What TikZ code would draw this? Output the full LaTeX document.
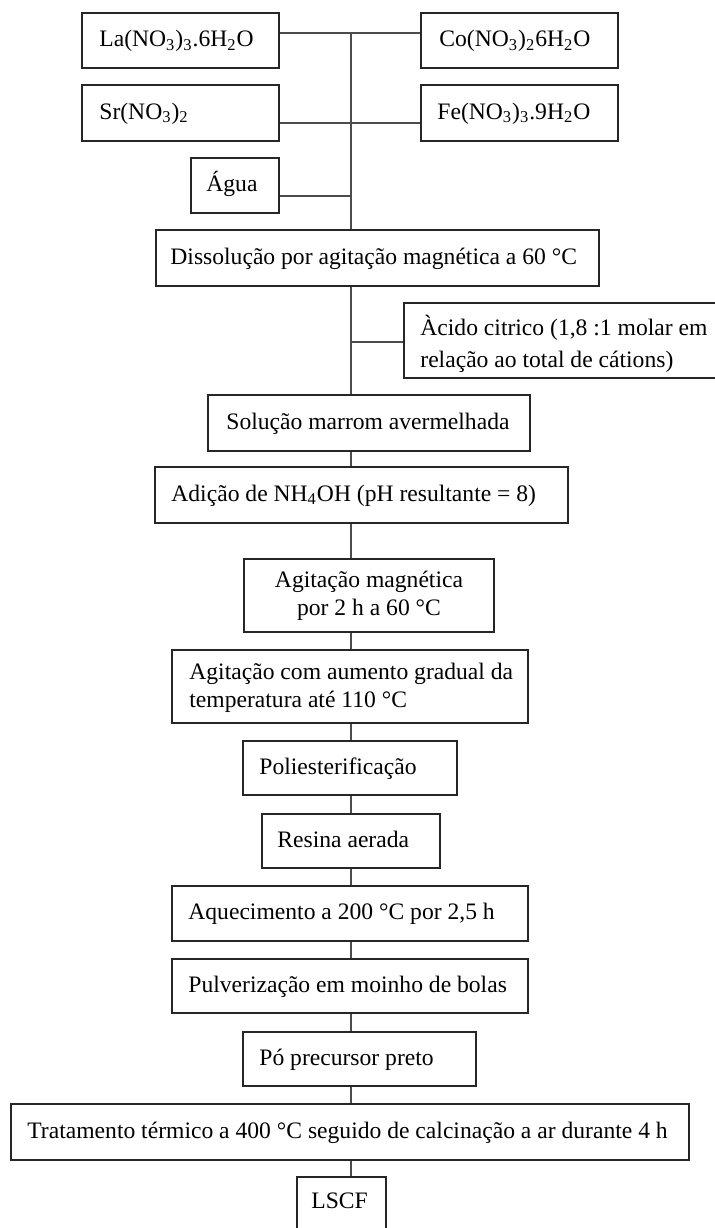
\documentclass[tikz,border=0pt]{standalone}
\usepackage{fontspec}
\setmainfont{Liberation Serif}
\usetikzlibrary{fit}
\begin{document}
\begin{tikzpicture}[x=0.5pt,y=-0.5pt,
  bx/.style={draw=black!85, line width=0.7pt, inner sep=0pt},
  tx/.style={inner sep=0pt, font=\fontsize{11.8}{14}\selectfont, text height=8.4pt, text depth=2.4pt, anchor=west},
  mtx/.style={inner sep=0pt, font=\fontsize{11.8}{14}\selectfont},
  conn/.style={draw=black!70, line width=0.9pt}]
\useasboundingbox (0,0) rectangle (715,1228);
\clip (0,0) rectangle (715,1228);
% boxes
\node[bx, fit={(82,13) (279,68)}] (La) {};
\node[bx, fit={(421,13) (618,68)}] (Co) {};
\node[bx, fit={(82,85) (279,141)}] (Sr) {};
\node[bx, fit={(421,85) (618,141)}] (Fe) {};
\node[bx, fit={(191,158) (279,213)}] (Ag) {};
\node[bx, fit={(156,230) (599,286)}] (Dis) {};
\node[bx, fit={(404,303) (730,378)}] (Aci) {};
\node[bx, fit={(208,395) (530,451)}] (Sol) {};
\node[bx, fit={(155,467) (568,523)}] (Adi) {};
\node[bx, fit={(244,559) (494,632)}] (Agm) {};
\node[bx, fit={(172,650) (528,723)}] (Aum) {};
\node[bx, fit={(243,741) (457,795)}] (Pol) {};
\node[bx, fit={(262,814) (440,868)}] (Res) {};
\node[bx, fit={(172,886) (528,941)}] (Aqu) {};
\node[bx, fit={(172,959) (528,1013)}] (Pul) {};
\node[bx, fit={(243,1032) (476,1086)}] (Po) {};
\node[bx, fit={(11,1104) (689,1160)}] (Tra) {};
\node[bx, fit={(297,1177) (386,1250)}] (LS) {};
% texts
\node[tx] (tLa) at (99,40.5) {La(NO\textsubscript{3})\textsubscript{3}.6H\textsubscript{2}O};
\node[tx] (tCo) at (439,40.5) {Co(NO\textsubscript{3})\textsubscript{2}6H\textsubscript{2}O};
\node[tx] (tSr) at (99,113) {Sr(NO\textsubscript{3})\textsubscript{2}};
\node[tx] (tFe) at (437,113) {Fe(NO\textsubscript{3})\textsubscript{3}.9H\textsubscript{2}O};
\node[tx] (tAg) at (206,185.5) {Água};
\node[tx] (tDis) at (170,258) {Dissolução por agitação magnética a 60 °C};
\node[mtx, anchor=west, align=left, font=\fontsize{11.8}{16}\selectfont] (tAci) at (420,344) {Àcido citrico (1,8 :1 molar em\\relação ao total de cátions)};
\node[tx] (tSol) at (226,423) {Solução marrom avermelhada};
\node[tx] (tAdi) at (171,495) {Adição de NH\textsubscript{4}OH (pH resultante = 8)};
\node[mtx, align=center] (tAgm) at (369,596) {Agitação magnética\\por 2 h a 60 °C};
\node[mtx, anchor=west, align=left] (tAum) at (189,688) {Agitação com aumento gradual da\\temperatura até 110 °C};
\node[tx] (tPol) at (259,768) {Poliesterificação};
\node[tx] (tRes) at (277,841) {Resina aerada};
\node[tx] (tAqu) at (188,913.5) {Aquecimento a 200 °C por 2,5 h};
\node[tx] (tPul) at (188,986) {Pulverização em moinho de bolas};
\node[tx] (tPo) at (259,1059) {Pó precursor preto};
\node[tx] (tTra) at (27,1132) {Tratamento térmico a 400 °C seguido de calcinação a ar durante 4 h};
\node[tx] (tLS) at (311,1202) {LSCF};
% trunk junctions
\coordinate (top) at (351,33);
\coordinate (jS) at (351,123);
\coordinate (jA) at (351,196);
\coordinate (jC) at (351,342);
% connectors
\draw[conn] (La.east |- top) -- (Co.west |- top);
\draw[conn] (Sr.east |- jS) -- (Fe.west |- jS);
\draw[conn] (Ag.east |- jA) -- (jA);
\draw[conn] (top) -- (top |- Dis.north);
\draw[conn] (top |- Dis.south) -- (top |- Sol.north);
\draw[conn] (jC) -- (Aci.west |- jC);
\draw[conn] (top |- Sol.south) -- (top |- Adi.north);
\draw[conn] (top |- Adi.south) -- (top |- Agm.north);
\draw[conn] (top |- Agm.south) -- (top |- Aum.north);
\draw[conn] (top |- Aum.south) -- (top |- Pol.north);
\draw[conn] (top |- Pol.south) -- (top |- Res.north);
\draw[conn] (top |- Res.south) -- (top |- Aqu.north);
\draw[conn] (top |- Aqu.south) -- (top |- Pul.north);
\draw[conn] (top |- Pul.south) -- (top |- Po.north);
\draw[conn] (top |- Po.south) -- (top |- Tra.north);
\draw[conn] (top |- Tra.south) -- (top |- LS.north);
\end{tikzpicture}
\end{document}
